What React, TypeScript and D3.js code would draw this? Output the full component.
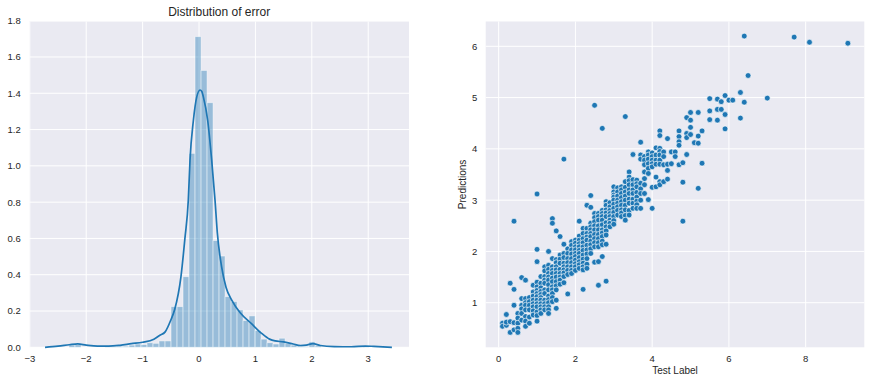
import React from 'react';
import * as d3 from 'd3';

const W = 875;
const H = 383;

// ---------- Left panel data: histogram of errors (density) ----------
const histStart = -2.305;
const histBinWidth = 0.1064;
const histDensity = [
  0.012, 0.014, 0, 0, 0, 0, 0.004, 0.004, 0.006, 0.006,
  0.012, 0.018, 0.015, 0.025, 0.022, 0.035, 0.035, 0.224, 0.224, 0.389,
  1.069, 1.712, 1.526, 1.348, 0.588, 0.503, 0.279, 0.252, 0.206, 0.147,
  0.173, 0.092, 0.045, 0.025, 0.018, 0.05, 0.02, 0.012, 0.006, 0.004,
  0.03, 0.008, 0, 0, 0, 0, 0, 0, 0, 0.007,
];

// KDE curve: [error, density]
const kdeCurve: [number, number][] = [
  [-2.73, 0.0], [-2.5, 0.006], [-2.3, 0.014], [-2.15, 0.019], [-2.0, 0.012],
  [-1.8, 0.006], [-1.6, 0.006], [-1.4, 0.011], [-1.2, 0.02], [-1.0, 0.028],
  [-0.8, 0.045], [-0.7, 0.065], [-0.6, 0.085], [-0.5, 0.15], [-0.43, 0.21],
  [-0.32, 0.39], [-0.25, 0.6], [-0.19, 0.81], [-0.16, 1.03], [-0.1, 1.25],
  [-0.04, 1.38], [0.018, 1.418], [0.05, 1.41], [0.077, 1.38], [0.154, 1.25],
  [0.225, 1.03], [0.284, 0.81], [0.325, 0.63], [0.4, 0.445], [0.48, 0.33],
  [0.58, 0.26], [0.73, 0.19], [0.93, 0.13], [1.11, 0.077], [1.25, 0.045],
  [1.35, 0.035], [1.5, 0.03], [1.67, 0.018], [1.8, 0.01], [1.9, 0.012],
  [2.02, 0.02], [2.15, 0.01], [2.4, 0.004], [2.7, 0.003], [2.95, 0.007],
  [3.1, 0.005], [3.42, 0.0],
];

const leftXTicks = [-3, -2, -1, 0, 1, 2, 3];
const leftYTicks = [0, 0.2, 0.4, 0.6, 0.8, 1.0, 1.2, 1.4, 1.6, 1.8];

// ---------- Right panel data: test label vs predictions ----------
const scatterColumns: [number, number[]][] = [
  [0.1, [0.60, 0.54]],
  [0.2, [0.77, 0.56, 0.62]],
  [0.3, [1.38, 0.63, 0.42]],
  [0.4, [2.59, 1.26, 0.95, 0.47, 0.61]],
  [0.5, [0.79, 0.70, 0.60, 0.50, 0.42]],
  [0.6, [1.49, 1.08, 0.95, 0.88, 0.79, 0.66]],
  [0.7, [1.44, 1.08, 1.00, 0.95, 0.86, 0.73, 0.64, 0.54]],
  [0.8, [1.10, 1.02, 0.95, 0.86, 0.72, 0.60]],
  [0.9, [1.34, 1.21, 1.13, 1.05, 0.98, 0.92, 0.84, 0.76]],
  [1.0, [3.12, 2.04, 1.80, 1.40, 1.31, 1.24, 1.18, 1.12, 1.05, 0.98, 0.92, 0.82, 0.75, 0.64]],
  [1.1, [1.51, 1.38, 1.29, 1.22, 1.16, 1.10, 1.05, 0.98, 0.92, 0.86, 0.79]],
  [1.2, [1.70, 1.62, 1.51, 1.44, 1.38, 1.25, 1.18, 1.05, 0.98, 0.92, 0.86]],
  [1.3, [2.00, 1.73, 1.65, 1.57, 1.50, 1.44, 1.35, 1.25, 1.13, 1.06, 1.00, 0.92, 0.86, 0.79]],
  [1.4, [2.64, 2.55, 1.86, 1.70, 1.63, 1.57, 1.48, 1.41, 1.31, 1.25, 1.18, 1.10, 1.02]],
  [1.5, [2.40, 1.84, 1.78, 1.70, 1.64, 1.57, 1.50, 1.41, 1.33, 1.25, 1.05, 0.89]],
  [1.6, [2.29, 1.93, 1.85, 1.77, 1.65, 1.57, 1.50, 1.44, 1.36]],
  [1.7, [3.80, 2.14, 1.96, 1.88, 1.77, 1.70, 1.64, 1.58, 1.51, 1.39]],
  [1.8, [2.05, 1.96, 1.86, 1.78, 1.70, 1.63, 1.55, 1.17]],
  [1.9, [2.19, 2.12, 2.03, 1.95, 1.86, 1.78, 1.70, 1.63, 1.57]],
  [2.0, [2.22, 2.16, 2.09, 2.03, 1.96, 1.90, 1.83, 1.76, 1.70, 1.63]],
  [2.1, [2.59, 2.30, 2.22, 2.15, 2.09, 2.02, 1.96, 1.88, 1.80, 1.74, 1.67]],
  [2.2, [2.45, 2.35, 2.25, 2.17, 2.09, 2.02, 1.93, 1.85, 1.77, 1.70, 1.64, 1.26]],
  [2.3, [2.90, 2.45, 2.35, 2.28, 2.22, 2.12, 2.03, 1.95, 1.86, 1.75, 1.67]],
  [2.4, [3.09, 2.86, 2.55, 2.48, 2.42, 2.35, 2.29, 2.20, 2.13, 2.05, 1.96]],
  [2.5, [4.85, 2.74, 2.66, 2.58, 2.50, 2.42, 2.33, 2.25, 2.17, 2.09, 1.79]],
  [2.6, [2.74, 2.68, 2.61, 2.50, 2.42, 2.33, 2.25, 2.17, 2.09, 1.80, 1.34]],
  [2.7, [4.40, 2.80, 2.74, 2.68, 2.61, 2.52, 2.42, 2.36, 2.29, 2.20, 2.13, 1.90]],
  [2.8, [2.97, 2.90, 2.81, 2.75, 2.68, 2.56, 2.48, 2.40, 2.32, 2.14, 1.42]],
  [2.9, [2.95, 2.87, 2.80, 2.74, 2.68, 2.61, 2.55, 2.48]],
  [3.0, [3.26, 3.16, 3.10, 3.06, 3.00, 2.92, 2.84, 2.76, 2.68, 2.60, 2.53]],
  [3.1, [3.24, 3.16, 3.08, 3.00, 2.94, 2.87, 2.80, 2.71]],
  [3.2, [3.26, 3.20, 3.13, 3.05, 2.97, 2.90, 2.81, 2.75, 2.68]],
  [3.3, [4.63, 3.36, 3.25, 3.16, 3.08, 3.00, 2.90, 2.81, 2.70, 2.61]],
  [3.4, [3.55, 3.45, 3.38, 3.30, 3.20, 3.13, 3.02, 2.94, 2.80, 2.71]],
  [3.5, [3.89, 3.40, 3.30, 3.20, 3.13, 3.02, 2.94, 2.84]],
  [3.6, [3.39, 3.32, 3.26, 3.15, 3.06, 2.98, 2.91, 2.84]],
  [3.7, [4.13, 3.88, 3.80, 3.33, 3.22, 3.13, 3.00, 2.84]],
  [3.8, [3.85, 3.78, 3.69, 3.55, 3.42, 3.30, 3.13]],
  [3.9, [3.94, 3.88, 3.80, 3.71, 3.62, 3.52, 3.01]],
  [4.0, [3.92, 3.85, 3.78, 3.71, 3.65, 3.25, 2.84]],
  [4.1, [4.02, 3.88, 3.78, 3.70, 3.45, 3.26]],
  [4.2, [4.35, 4.26, 4.01, 3.95, 3.88, 3.78, 3.70, 3.36, 3.30]],
  [4.3, [3.94, 3.85, 3.69, 3.36]],
  [4.4, [4.20, 3.70, 3.58, 3.41]],
  [4.5, [3.94, 3.71]],
  [4.6, [3.94, 3.85]],
  [4.7, [4.35, 4.24, 4.14, 4.07, 3.69]],
  [4.8, [3.73, 3.35, 2.59]],
  [4.9, [4.61, 4.30, 4.22, 3.89]],
  [5.0, [4.71, 4.56, 4.42, 4.28]],
  [5.1, [4.12]],
  [5.2, [4.71, 4.25, 4.11, 3.23]],
  [5.3, [4.35, 3.72]],
  [5.5, [4.98, 4.74, 4.57]],
  [5.7, [4.97, 4.77, 4.56]],
  [5.8, [4.92, 4.77]],
  [5.9, [5.04, 4.67, 4.39]],
  [6.0, [4.95]],
  [6.1, [4.95]],
  [6.3, [5.10, 4.60]],
  [6.4, [6.20, 4.91]],
  [6.5, [5.43]],
  [7.0, [4.99]],
  [7.7, [6.18]],
  [8.1, [6.08]],
  [9.1, [6.06]],
];

const rightXTicks = [0, 2, 4, 6, 8];
const rightYTicks = [1, 2, 3, 4, 5, 6];

const FONT = "'Liberation Sans', Arial, Helvetica, sans-serif";
const TEXT = '#262626';
const BG = '#EAEAF2';
const BLUE = '#1f77b4';

const fmtMinus = (v: number, digits: number) => {
  const s = digits > 0 ? Math.abs(v).toFixed(digits) : String(Math.abs(v));
  return v < 0 ? '\u2212' + s : s;
};

export default function App() {
  // Left panel geometry
  const L = { left: 29.3, right: 409, top: 21.5, bottom: 347.3 };
  const lx = d3.scaleLinear().domain([-3.009, 3.723]).range([L.left, L.right]);
  const ly = d3.scaleLinear().domain([0, 1.7956]).range([L.bottom, L.top]);

  // Right panel geometry
  const R = { left: 485.7, right: 864.3, top: 21.5, bottom: 347.3 };
  const rx = d3.scaleLinear().domain([-0.338, 9.528]).range([R.left, R.right]);
  const ry = d3.scaleLinear().domain([0.13, 6.484]).range([R.bottom, R.top]);

  const kdePath = d3
    .line<[number, number]>()
    .x((d) => lx(d[0]))
    .y((d) => ly(d[1]))
    .curve(d3.curveMonotoneX)(kdeCurve) as string;

  const points = scatterColumns.flatMap(([x, ys]) => ys.map((y) => ({ x, y })));

  return (
    <svg
      width={W}
      height={H}
      style={{ position: 'absolute', left: 0, top: 0, background: '#fff' }}
      fontFamily={FONT}
    >
      {/* ---------- Left panel ---------- */}
      <rect x={L.left} y={L.top} width={L.right - L.left} height={L.bottom - L.top} fill={BG} />
      {leftXTicks.map((t) => (
        <line key={'lxg' + t} x1={lx(t)} x2={lx(t)} y1={L.top} y2={L.bottom} stroke="#fff" strokeWidth={1} />
      ))}
      {leftYTicks.map((t) => (
        <line key={'lyg' + t} x1={L.left} x2={L.right} y1={ly(t)} y2={ly(t)} stroke="#fff" strokeWidth={1} />
      ))}
      {histDensity.map((d, i) => {
        const x0 = lx(histStart + i * histBinWidth);
        const x1 = lx(histStart + (i + 1) * histBinWidth);
        if (d <= 0) return null;
        return (
          <rect
            key={'bar' + i}
            x={x0}
            width={x1 - x0}
            y={ly(d)}
            height={ly(0) - ly(d)}
            fill={BLUE}
            fillOpacity={0.4}
            stroke="#fff"
            strokeOpacity={0.55}
            strokeWidth={0.8}
          />
        );
      })}
      <path d={kdePath} fill="none" stroke={BLUE} strokeWidth={1.7} />
      {leftXTicks.map((t) => (
        <text key={'lxt' + t} x={lx(t)} y={362} textAnchor="middle" fontSize={9.5} fill={TEXT}>
          {fmtMinus(t, 0)}
        </text>
      ))}
      {leftYTicks.map((t) => (
        <text key={'lyt' + t} x={L.left - 8.5} y={ly(t) + 3.4} textAnchor="end" fontSize={9.5} fill={TEXT}>
          {t.toFixed(1)}
        </text>
      ))}
      <text x={(L.left + L.right) / 2} y={15.5} textAnchor="middle" fontSize={12} fill={TEXT}>
        Distribution of error
      </text>

      {/* ---------- Right panel ---------- */}
      <rect x={R.left} y={R.top} width={R.right - R.left} height={R.bottom - R.top} fill={BG} />
      {rightXTicks.map((t) => (
        <line key={'rxg' + t} x1={rx(t)} x2={rx(t)} y1={R.top} y2={R.bottom} stroke="#fff" strokeWidth={1} />
      ))}
      {rightYTicks.map((t) => (
        <line key={'ryg' + t} x1={R.left} x2={R.right} y1={ry(t)} y2={ry(t)} stroke="#fff" strokeWidth={1} />
      ))}
      {points.map((p, i) => (
        <circle
          key={'pt' + i}
          cx={rx(p.x)}
          cy={ry(p.y)}
          r={2.9}
          fill={BLUE}
          stroke="#fff"
          strokeWidth={0.65}
        />
      ))}
      {rightXTicks.map((t) => (
        <text key={'rxt' + t} x={rx(t)} y={362} textAnchor="middle" fontSize={9.5} fill={TEXT}>
          {t}
        </text>
      ))}
      {rightYTicks.map((t) => (
        <text key={'ryt' + t} x={R.left - 8.5} y={ry(t) + 3.4} textAnchor="end" fontSize={9.5} fill={TEXT}>
          {t}
        </text>
      ))}
      <text x={(R.left + R.right) / 2} y={373.5} textAnchor="middle" fontSize={10} fill={TEXT}>
        Test Label
      </text>
      <text
        transform={`translate(466,${(R.top + R.bottom) / 2}) rotate(-90)`}
        textAnchor="middle"
        fontSize={10}
        fill={TEXT}
      >
        Predictions
      </text>
    </svg>
  );
}
